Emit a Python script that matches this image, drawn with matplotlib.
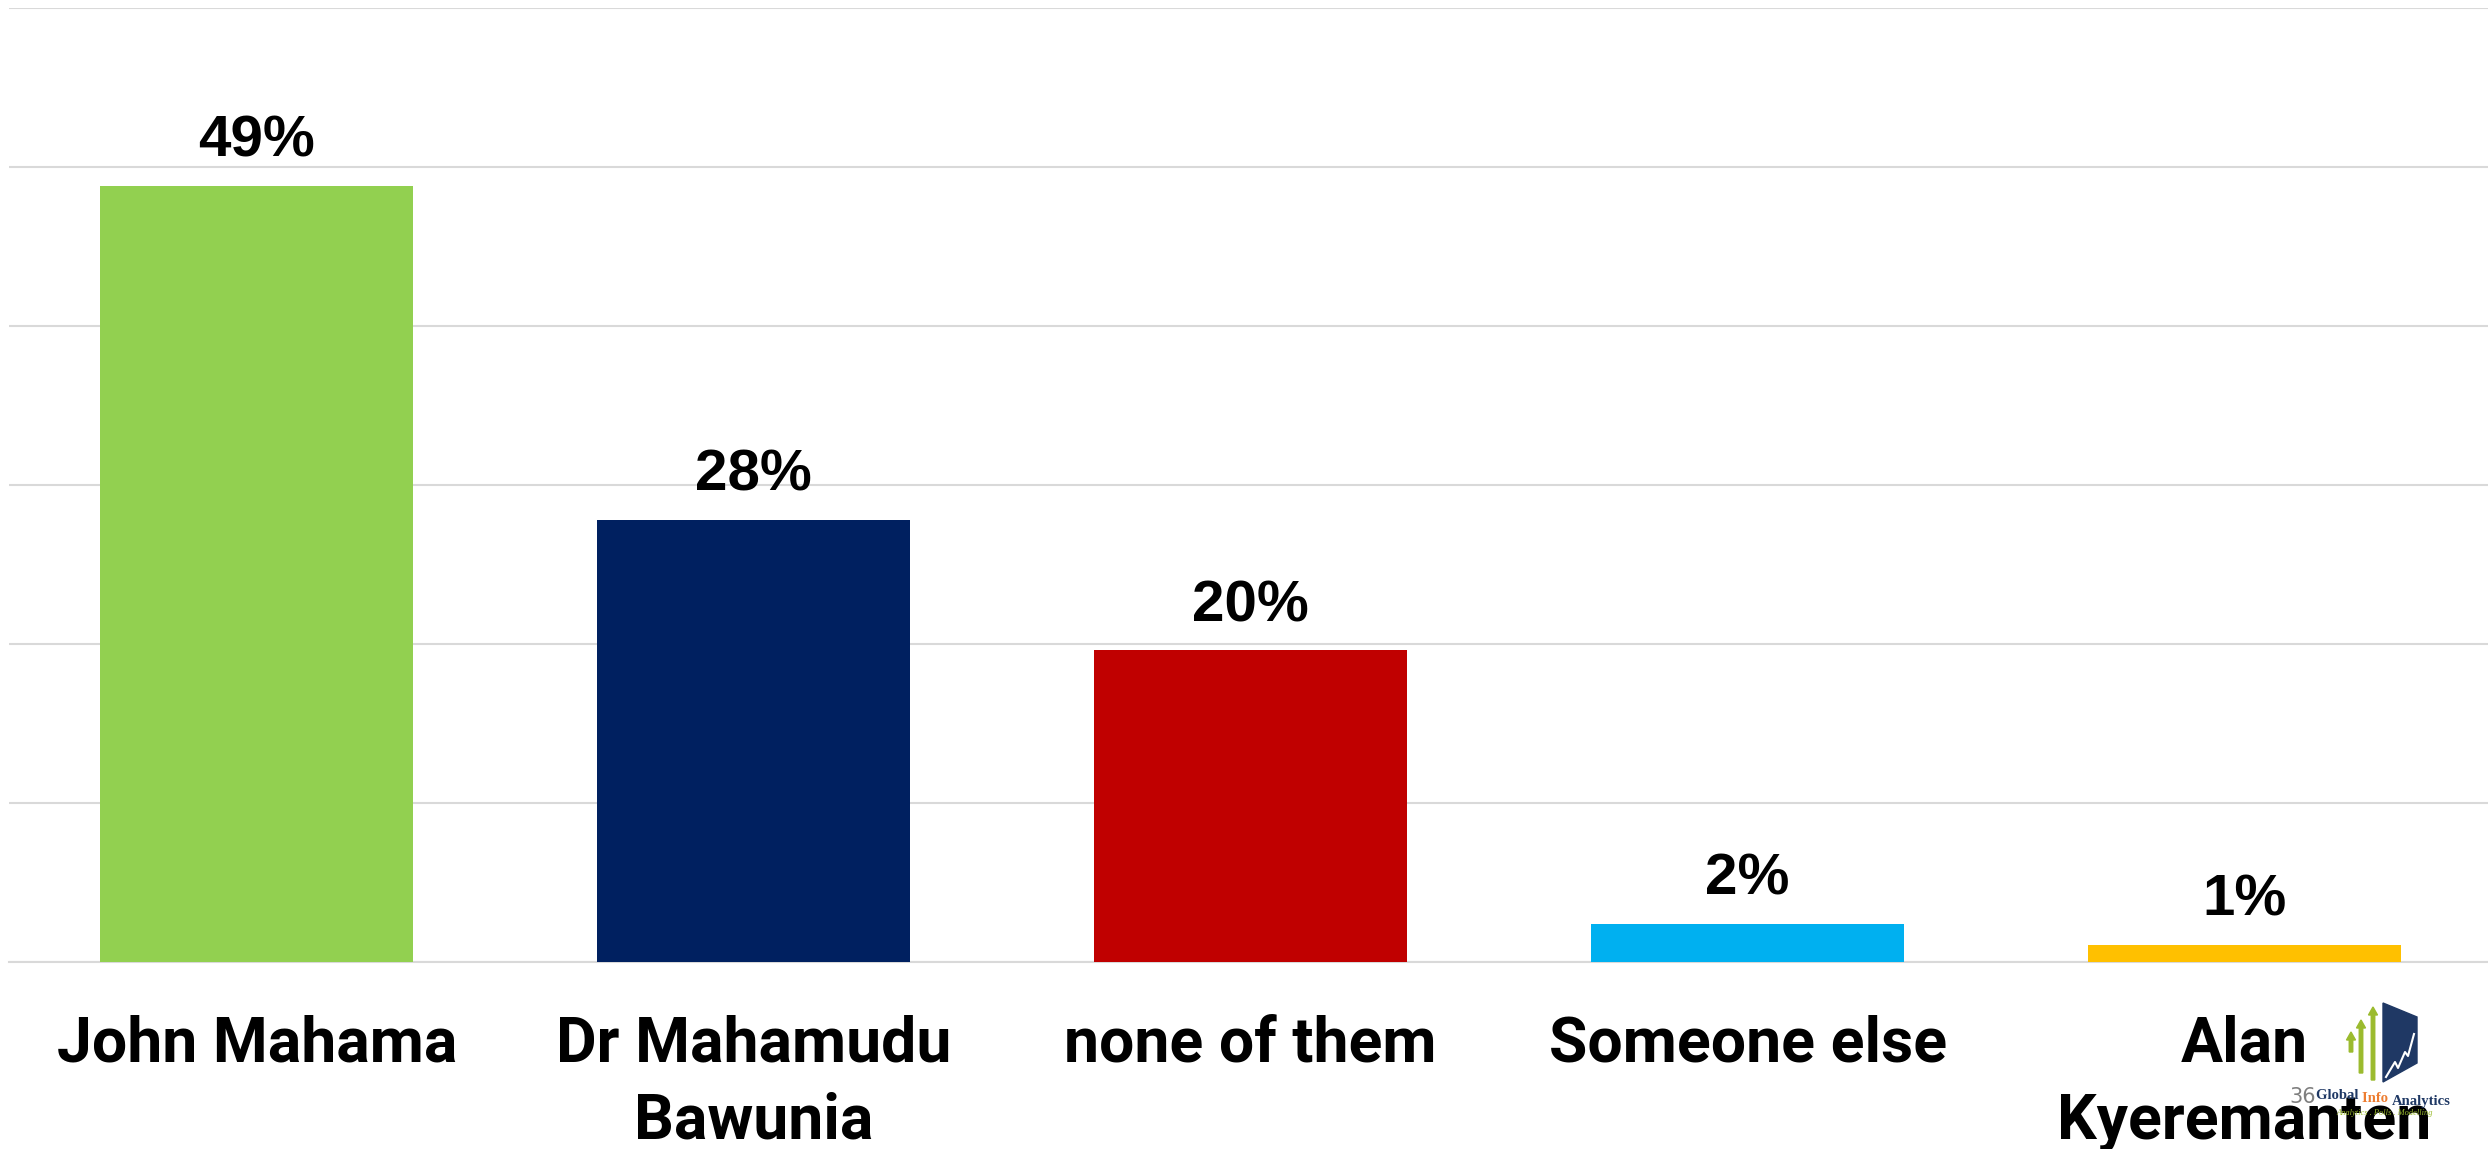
import numpy as np
import matplotlib.pyplot as plt
from matplotlib.patches import Polygon, FancyArrow

# Data
categories = ["John Mahama", "Dr Mahamudu\nBawunia", "none of them",
              "Someone else", "Alan\nKyeremanten"]
values = [48.8, 27.8, 19.6, 2.4, 1.1]
bar_colors = ["#92D050", "#002060", "#C00000", "#00B0F0", "#FFC000"]
y_ticks = [0, 10, 20, 30, 40, 50, 60]

W, H = 2488, 1149
fig = plt.figure(figsize=(W / 100, H / 100), dpi=100)


def px(x, y):
    # figure pixel (from top-left) -> figure fraction
    return x / W, 1 - y / H


ax = fig.add_axes([8.5 / W, 187 / H, (2493 - 8.5) / W, (962 - 8) / H])

x = np.arange(len(categories))
ax.bar(x, values, width=0.63, color=bar_colors, zorder=3)

for xi, v in zip(x, values):
    ax.annotate(f"{v:.0f}%", (xi, v), xytext=(0, 21), textcoords="offset points",
                ha="center", va="baseline", fontsize=42, fontweight="bold",
                family="Liberation Sans", color="black")

ax.set_xlim(-0.5, len(categories) - 0.5)
ax.set_ylim(0, 60)
ax.set_yticks(y_ticks)
ax.yaxis.grid(True, color="#d9d9d9", linewidth=1.5, zorder=0)
ax.tick_params(axis="y", left=False, labelleft=False)
ax.tick_params(axis="x", length=0, pad=38)
ax.set_xticks(x)
ax.set_xticklabels(categories, fontsize=45, fontweight="bold", family="Roboto",
                   linespacing=1.35)
for s in ["top", "right", "left"]:
    ax.spines[s].set_visible(False)
ax.spines["bottom"].set_color("#d9d9d9")
ax.spines["bottom"].set_linewidth(1.5)

# page number and logo in the bottom right corner
fig.text(*px(2303, 1097), "36", fontsize=15, color="#7f7f7f", ha="center", va="center")

logo = Polygon([px(2383, 1003), px(2417, 1017), px(2417, 1063), px(2383, 1082)],
               closed=True, transform=fig.transFigure, color="#1F3864")
fig.patches.append(logo)
zig = [(2386, 1077), (2395, 1062), (2398, 1068), (2405, 1052), (2408, 1056), (2414, 1034)]
fig.lines.append(plt.Line2D([px(a, b)[0] for a, b in zig], [px(a, b)[1] for a, b in zig],
                            transform=fig.transFigure, color="white", linewidth=1.5))
for ax_x, top, bot in [(2351, 1032, 1052), (2361, 1020, 1073), (2373, 1007, 1080)]:
    x0, y0 = px(ax_x, bot)
    x1, y1 = px(ax_x, top)
    fig.patches.append(FancyArrow(x0, y0, 0, y1 - y0, width=3.5 / W, head_width=9 / W,
                                  head_length=8 / H, length_includes_head=True,
                                  transform=fig.transFigure, color="#9BBB2E"))

# logo name, pieces chained one after the other
logo_font = dict(fontsize=10.5, fontweight="bold", family="Liberation Serif", va="baseline")
t1 = fig.text(*px(2316, 1099), "Global ", color="#1F3864", ha="left", **logo_font)
t2 = ax.annotate("Info ", xy=(1, 0), xycoords=t1, color="#ED7D31", ha="left",
                 annotation_clip=False, **logo_font)
ax.annotate("Analytics", xy=(1, 0), xycoords=t2, color="#1F3864", ha="left",
            annotation_clip=False, **logo_font)
fig.text(*px(2385, 1113), "Analytics . Polls . Modelling", fontsize=6, style="italic",
         family="Liberation Serif", color="#9BBB2E", ha="center", va="center")

plt.savefig("out.png", dpi=100)
